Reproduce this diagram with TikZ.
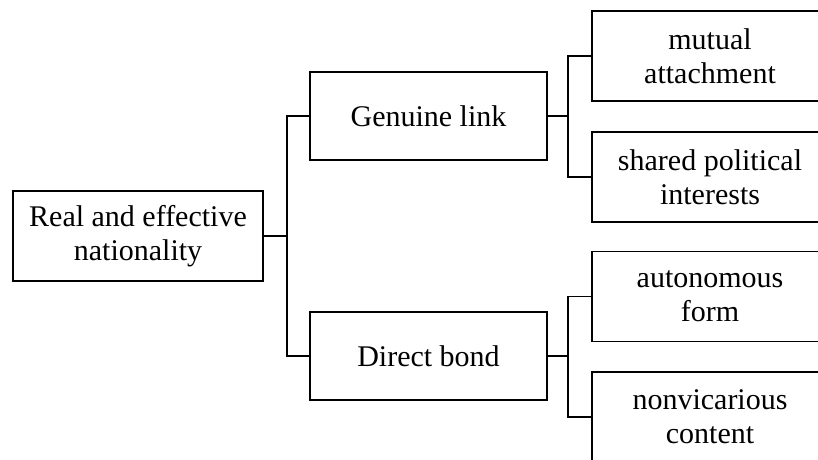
\documentclass[tikz,border=0pt]{standalone}
\usepackage{fontspec}
\setmainfont{Liberation Serif}
\begin{document}
\begin{tikzpicture}[x=1pt,y=-1pt,
  box/.style={draw=black, line width=1.5pt, fill=white, align=center, inner sep=0pt,
    font=\fontsize{30}{34}\selectfont},
  conn/.style={draw=black, line width=1.5pt}]
\useasboundingbox (0,0) rectangle (818,459);
\clip (0,0) rectangle (818,459);
\node[box, minimum width=250pt, minimum height=90pt] (root) at (138,236) {Real and effective\\nationality};
\node[box, minimum width=237pt, minimum height=88pt] (gen) at (428.5,116) {Genuine link};
\node[box, minimum width=237pt, minimum height=88pt] (dir) at (428.5,356) {Direct bond};
\node[box, minimum width=236pt, minimum height=90pt] (mut) at (710,56) {mutual\\attachment};
\node[box, minimum width=236pt, minimum height=90pt] (sha) at (710,177) {shared political\\interests};
\node[box, minimum width=236pt, minimum height=90pt] (aut) at (710,296.5) {autonomous\\form};
\node[box, minimum width=236pt, minimum height=90pt] (non) at (710,417) {nonvicarious\\content};
\coordinate (t1) at (287,236);
\coordinate (t2) at (568,116);
\coordinate (t3) at (568,356);
\draw[conn] (root.east) -- (t1);
\draw[conn] (gen.west) -| (t1) |- (dir.west);
\draw[conn] (gen.east) -- (t2);
\draw[conn] (mut.west) -| (t2) |- (sha.west);
\draw[conn] (dir.east) -- (t3);
\draw[conn] (aut.west) -| (t3) |- (non.west);
\end{tikzpicture}
\end{document}
